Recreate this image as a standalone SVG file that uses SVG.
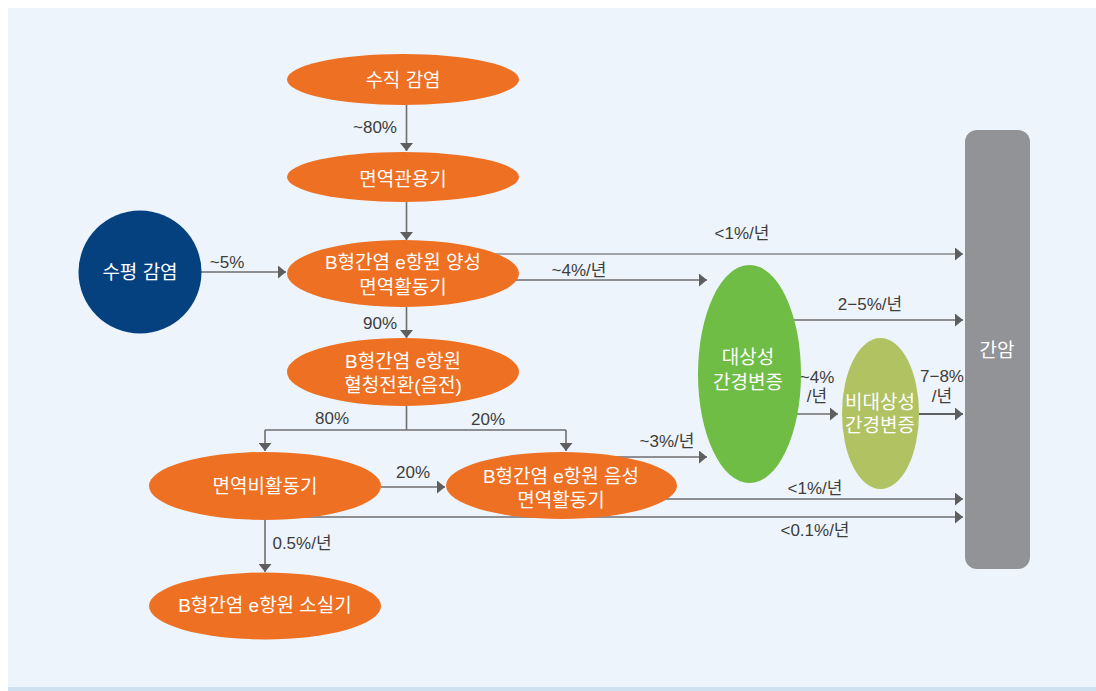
<svg xmlns="http://www.w3.org/2000/svg" width="1096" height="691" viewBox="0 0 1096 691">
<defs>
<marker id="ah" markerUnits="userSpaceOnUse" markerWidth="9" markerHeight="13" refX="8" refY="6.5" orient="auto">
<path d="M0,0 L8,6.5 L0,13 z" fill="#5d5e60"/>
</marker>
<style>
.ln{fill:none;stroke:#6d6e70;stroke-width:1.6}
.or{fill:#ee7023}
.nt{font-family:"Liberation Sans","Noto Sans CJK KR",sans-serif;font-size:19px;fill:#ffffff;text-anchor:middle;dominant-baseline:central}
.lb{font-family:"Liberation Sans","Noto Sans CJK KR",sans-serif;font-size:17px;fill:#3d3d3d;text-anchor:middle;dominant-baseline:central}
</style>
</defs>
<rect x="0" y="0" width="1096" height="691" fill="#ffffff"/>
<rect x="8" y="8" width="1088" height="679" fill="#edf4fb"/>
<rect x="8" y="687" width="1088" height="4" fill="#cde1f0"/>

<g id="connectors">
<line class="ln" x1="406.5" y1="105" x2="406.5" y2="151" marker-end="url(#ah)"/>
<line class="ln" x1="406.5" y1="202" x2="406.5" y2="240" marker-end="url(#ah)"/>
<line class="ln" x1="201" y1="272" x2="286" y2="272" marker-end="url(#ah)"/>
<line class="ln" x1="406.5" y1="307" x2="406.5" y2="338" marker-end="url(#ah)"/>
<line class="ln" x1="403" y1="254" x2="963" y2="254" marker-end="url(#ah)" style="stroke:#8a8b8d"/>
<line class="ln" x1="403" y1="280" x2="707" y2="280" marker-end="url(#ah)"/>
<polyline class="ln" points="406.5,406 406.5,430"/>
<line class="ln" x1="265" y1="430" x2="566" y2="430"/>
<line class="ln" x1="265" y1="430" x2="265" y2="451" marker-end="url(#ah)"/>
<line class="ln" x1="566" y1="430" x2="566" y2="451" marker-end="url(#ah)"/>
<line class="ln" x1="381" y1="487" x2="445" y2="487" marker-end="url(#ah)"/>
<line class="ln" x1="561" y1="457" x2="707" y2="457" marker-end="url(#ah)"/>
<line class="ln" x1="561" y1="499" x2="963" y2="499" marker-end="url(#ah)"/>
<line class="ln" x1="265" y1="517" x2="963" y2="517" marker-end="url(#ah)"/>
<line class="ln" x1="265" y1="520" x2="265" y2="572" marker-end="url(#ah)"/>
<line class="ln" x1="749" y1="320" x2="963" y2="320" marker-end="url(#ah)"/>
<line class="ln" x1="797" y1="414" x2="838" y2="414" marker-end="url(#ah)"/>
<line class="ln" x1="919" y1="414" x2="963" y2="414" marker-end="url(#ah)" style="stroke-width:2.2;stroke:#5d5e60"/>
</g>

<g id="labels">
<text class="lb" x="375" y="127">~80%</text>
<text class="lb" x="227" y="262">~5%</text>
<text class="lb" x="380" y="323">90%</text>
<text class="lb" x="742" y="233">&lt;1%/년</text>
<text class="lb" x="579" y="270">~4%/년</text>
<text class="lb" x="870" y="304">2−5%/년</text>
<text class="lb" x="817" y="377">~4%</text>
<text class="lb" x="817" y="396">/년</text>
<text class="lb" x="942" y="376">7−8%</text>
<text class="lb" x="942" y="396">/년</text>
<text class="lb" x="332" y="418">80%</text>
<text class="lb" x="488" y="419">20%</text>
<text class="lb" x="667" y="441">~3%/년</text>
<text class="lb" x="413" y="472">20%</text>
<text class="lb" x="815" y="488">&lt;1%/년</text>
<text class="lb" x="815" y="530">&lt;0.1%/년</text>
<text class="lb" x="302" y="543">0.5%/년</text>
</g>

<g id="n-vertical">
<ellipse class="or" cx="403" cy="79.5" rx="116" ry="25.5"/>
<text class="nt" x="403" y="80">수직 감염</text>
</g>
<g id="n-tolerance">
<ellipse class="or" cx="403" cy="177" rx="116" ry="25"/>
<text class="nt" x="403" y="179">면역관용기</text>
</g>
<g id="n-horizontal">
<circle cx="140" cy="272" r="61.5" fill="#05407f"/>
<text class="nt" x="140" y="272">수평 감염</text>
</g>
<g id="n-positive">
<ellipse class="or" cx="403" cy="273.5" rx="116" ry="33.5"/>
<text class="nt" x="403" y="262">B형간염 e항원 양성</text>
<text class="nt" x="403" y="287">면역활동기</text>
</g>
<g id="n-seroconversion">
<ellipse class="or" cx="403" cy="372" rx="116" ry="34"/>
<text class="nt" x="403" y="361">B형간염 e항원</text>
<text class="nt" x="403" y="385">혈청전환(음전)</text>
</g>
<g id="n-inactive">
<ellipse class="or" cx="265" cy="486" rx="116" ry="34"/>
<text class="nt" x="265" y="486">면역비활동기</text>
</g>
<g id="n-negative">
<ellipse class="or" cx="561.5" cy="485.5" rx="115.5" ry="33.5"/>
<text class="nt" x="561" y="476">B형간염 e항원 음성</text>
<text class="nt" x="561" y="500">면역활동기</text>
</g>
<g id="n-loss">
<ellipse class="or" cx="265" cy="606" rx="116" ry="33.5"/>
<text class="nt" x="265" y="605">B형간염 e항원 소실기</text>
</g>
<g id="n-compensated">
<ellipse cx="749.5" cy="374" rx="51.5" ry="109" fill="#6fbd45"/>
<text class="nt" x="748" y="357">대상성</text>
<text class="nt" x="748" y="382">간경변증</text>
</g>
<g id="n-decompensated">
<ellipse cx="880.5" cy="413.5" rx="38.5" ry="75.5" fill="#b1c263"/>
<text class="nt" x="880" y="402">비대상성</text>
<text class="nt" x="880" y="425">간경변증</text>
</g>
<g id="n-hcc">
<rect x="965" y="130" width="65" height="439" rx="12" ry="12" fill="#929396"/>
<text class="nt" x="997" y="350">간암</text>
</g>
</svg>
